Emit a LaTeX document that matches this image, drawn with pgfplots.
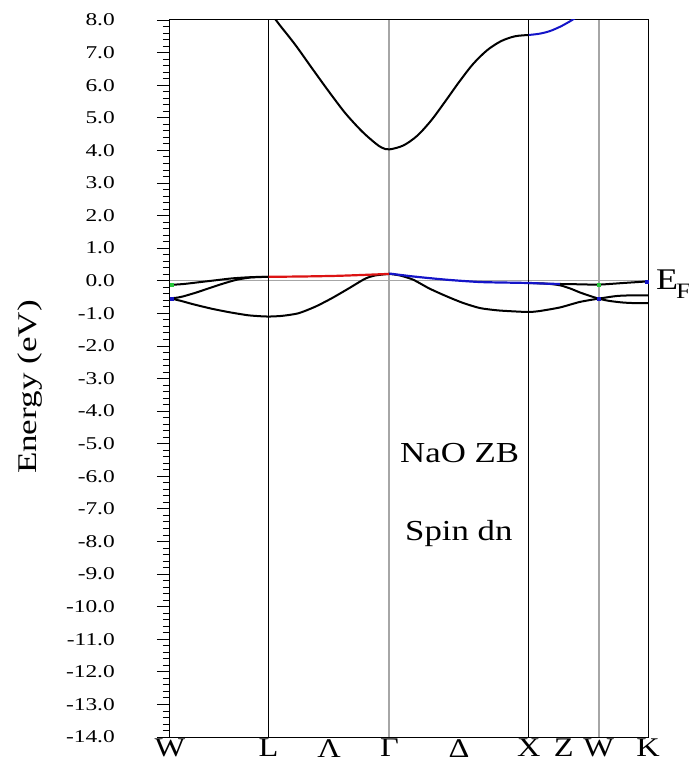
\documentclass[border=0pt]{standalone}
\usepackage{pgfplots}
\pgfplotsset{compat=1.18}
\usepackage{fontspec}
\setmainfont{Liberation Serif}
\newfontfamily\tickf[FakeStretch=1.3]{Liberation Serif}
\newfontfamily\labf[FakeStretch=1.2]{Liberation Serif}
\definecolor{bandblue}{RGB}{20,20,200}
\definecolor{bandred}{RGB}{220,20,20}
\definecolor{bandgreen}{RGB}{40,200,60}
\begin{document}
\begin{tikzpicture}
\path[use as bounding box] (-170pt,-28pt) rectangle (518pt,737pt);
\begin{axis}[
  scale only axis,
  width=478pt, height=717pt,
  at={(0pt,0pt)}, anchor=south west,
  xmin=0, xmax=3.427, ymin=-14, ymax=8,
  axis line style={black, line width=1pt},
  xtick={0,0.707,1.140,1.573,2.073,2.573,2.823,3.073,3.427},
  xticklabels={W,L,Λ,Γ,Δ,X,Z,W,K},
  xtick style={draw=none},
  xticklabel style={font=\labf\fontsize{27}{27}\selectfont, inner sep=0pt, yshift=11pt},
  ytick={-14,-13,...,8},
  minor y tick num=4,
  ytick pos=left, xtick pos=bottom,
  tick align=outside,
  major tick length=13pt, minor tick length=7pt,
  ytick style={draw=black, line width=0.8pt},
  minor tick style={draw=black, line width=0.6pt},
  yticklabel style={font=\tickf\fontsize{18}{18}\selectfont, inner sep=0pt, xshift=-42pt},
  /pgf/number format/.cd, fixed, fixed zerofill, precision=1, assume math mode=true,
  /pgfplots/.cd,
  ylabel={Energy (eV)},
  ylabel style={font=\tickf\fontsize{27}{27}\selectfont, at={(axis description cs:-0.293,0.488)}, anchor=center},
]
% Fermi level and symmetry lines
\addplot[gray!70, line width=1.5pt] coordinates {(0,0) (3.427,0)};
\addplot[black, line width=1.2pt] coordinates {(0.707,-14) (0.707,8)};
\addplot[gray!70, line width=2pt] coordinates {(1.573,-14) (1.573,8)};
\addplot[black, line width=1.2pt] coordinates {(2.573,-14) (2.573,8)};
\addplot[gray!70, line width=2pt] coordinates {(3.073,-14) (3.073,8)};
% conduction band
\addplot[black, line width=2pt, smooth, tension=0.5] coordinates {
(0.707,8.25)(0.75,8.05)(0.791,7.82)(0.898,7.24)(1.018,6.52)(1.138,5.81)(1.257,5.14)(1.377,4.58)(1.472,4.22)(1.52,4.08)(1.573,4.03)(1.673,4.15)(1.773,4.45)(1.873,4.92)(1.973,5.5)(2.073,6.1)(2.173,6.65)(2.273,7.07)(2.373,7.35)(2.473,7.5)(2.573,7.54)};
\addplot[bandblue, line width=2pt, smooth, tension=0.5] coordinates {
(2.573,7.54)(2.65,7.58)(2.724,7.66)(2.80,7.80)(2.868,7.96)(2.92,8.1)};
% valence bands W-L
\addplot[black, line width=2pt, smooth, tension=0.4] coordinates {
(0,-0.13)(0.1,-0.10)(0.2,-0.05)(0.32,0.01)(0.44,0.07)(0.54,0.10)(0.62,0.115)(0.707,0.12)};
\addplot[black, line width=2pt, smooth, tension=0.4] coordinates {
(0,-0.54)(0.05,-0.52)(0.095,-0.48)(0.19,-0.36)(0.287,-0.22)(0.38,-0.09)(0.478,0.03)(0.58,0.10)(0.707,0.12)};
\addplot[black, line width=2pt, smooth, tension=0.4] coordinates {
(0,-0.54)(0.08,-0.62)(0.165,-0.72)(0.30,-0.86)(0.43,-0.97)(0.56,-1.06)(0.65,-1.09)(0.707,-1.1)};
% L-Gamma
\addplot[black, line width=2pt, smooth, tension=0.4] coordinates {
(0.707,-1.1)(0.80,-1.08)(0.92,-1.0)(1.04,-0.8)(1.159,-0.54)(1.28,-0.24)(1.398,0.06)(1.47,0.16)(1.573,0.21)};
\addplot[bandred, line width=2.2pt, smooth, tension=0.4] coordinates {
(0.707,0.12)(0.95,0.13)(1.2,0.15)(1.4,0.18)(1.573,0.21)};
% Gamma-X-W-K
\addplot[black, line width=2pt, smooth, tension=0.4] coordinates {
(1.573,0.21)(1.65,0.16)(1.744,0.03)(1.86,-0.24)(1.984,-0.48)(2.10,-0.68)(2.223,-0.84)(2.35,-0.91)(2.462,-0.94)(2.573,-0.96)(2.65,-0.93)(2.796,-0.82)(2.939,-0.65)(3.073,-0.55)(3.2,-0.47)(3.3,-0.45)(3.427,-0.45)};
\addplot[black, line width=2pt, smooth, tension=0.4] coordinates {
(2.573,-0.07)(2.70,-0.09)(2.796,-0.14)(2.87,-0.24)(2.939,-0.36)(3.0,-0.45)(3.073,-0.55)(3.15,-0.62)(3.25,-0.67)(3.35,-0.69)(3.427,-0.69)};
\addplot[black, line width=2pt, smooth, tension=0.4] coordinates {
(2.796,-0.10)(2.94,-0.11)(3.073,-0.12)(3.25,-0.07)(3.427,-0.02)};
\addplot[bandblue, line width=2.2pt, smooth, tension=0.4] coordinates {
(1.573,0.22)(1.744,0.13)(1.984,0.03)(2.223,-0.04)(2.45,-0.06)(2.573,-0.07)(2.70,-0.09)(2.796,-0.10)};
% markers
\addplot[only marks, mark=square*, mark size=1.5pt, bandgreen] coordinates {(0.01,-0.13)(3.073,-0.12)};
\addplot[only marks, mark=square*, mark size=1.5pt, bandblue] coordinates {(0.01,-0.54)(3.073,-0.55)(3.42,-0.02)};
% texts
\node[anchor=base west, font=\labf\fontsize{29}{29}\selectfont, inner sep=0pt] at (axis cs:1.649,-5.57) {NaO ZB};
\node[anchor=base west, font=\labf\fontsize{29}{29}\selectfont, inner sep=0pt] at (axis cs:1.685,-7.97) {Spin dn};
\end{axis}
\node[anchor=base west, inner sep=0pt] at (486pt,447.3pt) {\labf\fontsize{30}{30}\selectfont E\kern-2pt\raisebox{-9pt}{\fontsize{22}{22}\selectfont F}};
\end{tikzpicture}
\end{document}
